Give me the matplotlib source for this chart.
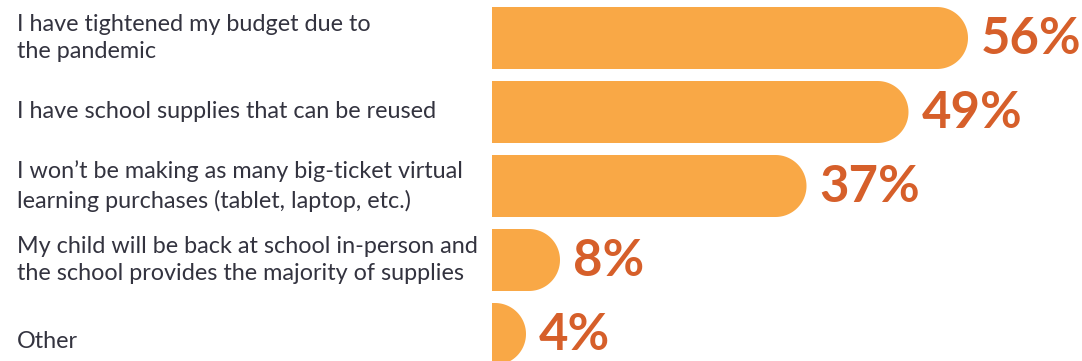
import numpy as np
import matplotlib.pyplot as plt
from matplotlib.patches import Polygon

labels = [
    'I have tightened my budget due to\nthe pandemic',
    'I have school supplies that can be reused',
    'I won\u2019t be making as many big-ticket virtual\nlearning purchases (tablet, laptop, etc.)',
    'My child will be back at school in-person and\nthe school provides the majority of supplies',
    'Other',
]
values = [56, 49, 37, 8, 4]

BAR_COLOR = '#F9A846'
PCT_COLOR = '#D65F2A'
TEXT_COLOR = '#33333F'

W, H = 1082, 361
fig = plt.figure(figsize=(W / 100, H / 100), dpi=100)
ax = fig.add_axes([0, 0, 1, 1])

# pixel scale: 0% at x=492, 8.5 px per percent; rows 74 px apart
px_per_pct = 8.5
x0_px = 492
row_px = 74
ax.set_xlim(-x0_px / px_per_pct, (W - x0_px) / px_per_pct)
ax.set_ylim((H - 38) / row_px, -38 / row_px)
ax.axis('off')

bar_h = 62 / row_px
cap_rx = 31 / px_per_pct

for i, (lab, v) in enumerate(zip(labels, values)):
    rx = min(cap_rx, v)
    flat = v - rx
    t = np.linspace(np.pi / 2, -np.pi / 2, 60)
    cap_x = flat + rx * np.cos(t)
    cap_y = i - (bar_h / 2) * np.sin(t)
    xs = np.concatenate([[0], cap_x, [0]])
    ys = np.concatenate([[i - bar_h / 2], cap_y, [i + bar_h / 2]])
    ax.add_patch(Polygon(np.column_stack([xs, ys]), closed=True,
                         facecolor=BAR_COLOR, edgecolor='none'))
    ax.text(v + 13 / px_per_pct, i + 0.02, f'{v}%', ha='left', va='center',
            fontsize=36.5, fontweight='bold', color=PCT_COLOR, family='Lato')
    dy = 0.1 if lab == 'Other' else 0.0
    ax.text(-475 / px_per_pct, i + dy, lab, ha='left', va='center',
            fontsize=16.8, color=TEXT_COLOR, family='Lato', linespacing=1.4)

fig.savefig('out.png', dpi=100)
